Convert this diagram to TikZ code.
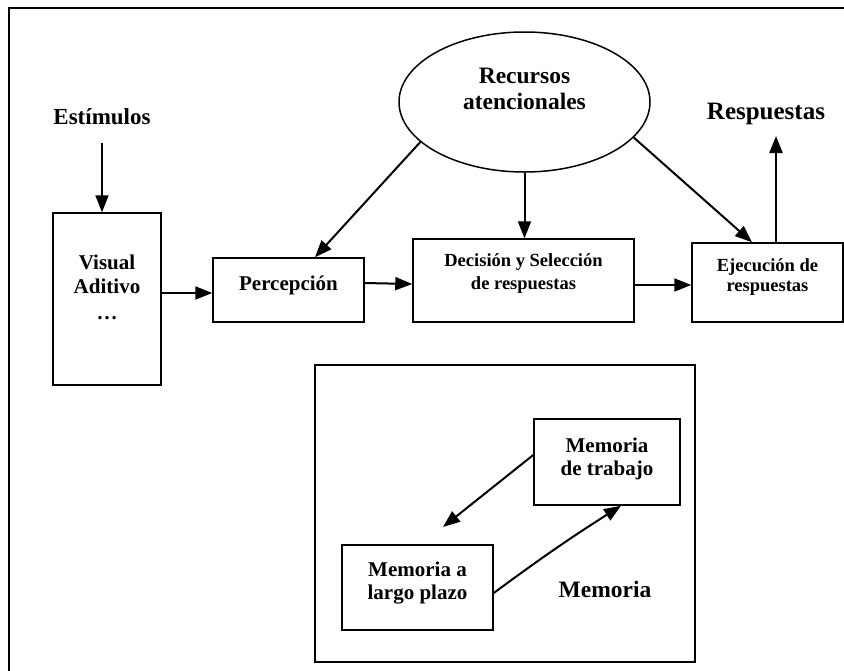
\documentclass[tikz,border=0pt]{standalone}
\usepackage{fontspec}
\setmainfont{Liberation Serif}
\usetikzlibrary{arrows.meta,shapes.geometric}
\begin{document}
\begin{tikzpicture}[x=1pt,y=-1pt,
  box/.style={draw,line width=1.5pt,inner sep=0pt,minimum width=#1},
  ftxt/.style n args={2}{font=\fontsize{#1}{#2}\selectfont\bfseries,align=center,inner sep=0pt},
  arr/.style={-{Triangle[length=17pt,width=13pt]},line width=2pt},
  frame/.style={draw,line width=2pt}]
\useasboundingbox (0,0) rectangle (844,670);
\clip (0,0) rectangle (844,670);
\draw[frame] (9,8) rectangle (880,700);

% top row boxes
\node[box=108pt,minimum height=172pt] (vis) at (107,299) {};
\node[box=151pt,minimum height=64pt] (perc) at (288.5,290) {};
\node[box=221pt,minimum height=83pt] (dec) at (523.5,280.5) {};
\node[box=151pt,minimum height=79pt] (eje) at (767.5,282.5) {};
\node[draw,line width=1.5pt,ellipse,inner sep=0pt,minimum width=251pt,minimum height=140pt] (rec) at (524.5,102) {};

% texts
\node[ftxt={23}{26},anchor=base] (est) at (102,124) {Estímulos};
\node[ftxt={23.5}{26}] (rect) at (524.5,89.2) {Recursos\\atencionales};
\node[ftxt={25}{28},anchor=base] (resp) at (766,119) {Respuestas};
\node[ftxt={21}{24}] (vist) at (107,287) {Visual\\Aditivo\\[2pt]…};
\node[ftxt={21}{24},anchor=base] (perct) at (288.5,290) {Percepción};
\node[ftxt={18.5}{23}] (dect) at (523.5,273.8) {Decisión y Selección\\de respuestas};
\node[ftxt={18.5}{20}] (ejet) at (767.5,277.3) {Ejecución de\\respuestas};

% free ends
\coordinate (etail) at (102,143);
\coordinate (rtip) at (776,136);
\coordinate (mtip) at (443,527);

% top connectors
\draw[arr] (etail) -- (etail |- vis.north);
\draw[arr] (vis.east |- perc.west) ++(0,3) -- ([yshift=-3pt]perc.west);
\draw[arr] ([yshift=7pt]perc.east) -- ([yshift=-3.5pt]dec.west);
\draw[arr] ([yshift=-4.5pt]dec.east) -- ([yshift=-2.5pt]eje.west);
\draw[arr] (rec.201) -- ([xshift=26.5pt]perc.north);
\draw[arr] (rec.south) -- (rec.south |- dec.north);
\draw[arr] (rec.-18) -- ([xshift=-15.5pt]eje.north);
\draw[arr] (rtip |- eje.north) -- (rtip);

% memory block
\node[box=380pt,minimum height=297pt] (mem) at (505,513.5) {};
\node[box=146pt,minimum height=86pt] (mdt) at (607,462) {};
\node[box=151pt,minimum height=85pt] (mlp) at (417.5,587.5) {};
\node[ftxt={21}{23}] (mdtt) at (607,458.5) {Memoria\\de trabajo};
\node[ftxt={21}{23}] (mlpt) at (417.5,583.5) {Memoria a\\largo plazo};
\node[ftxt={23.5}{26},anchor=base] (memt) at (605,597) {Memoria};

\draw[arr] ([yshift=7pt]mdt.west) -- (mtip);
\draw[arr] ([yshift=-5.5pt]mlp.east) to[bend left=2] ([xshift=14pt]mdt.south);
\end{tikzpicture}
\end{document}
